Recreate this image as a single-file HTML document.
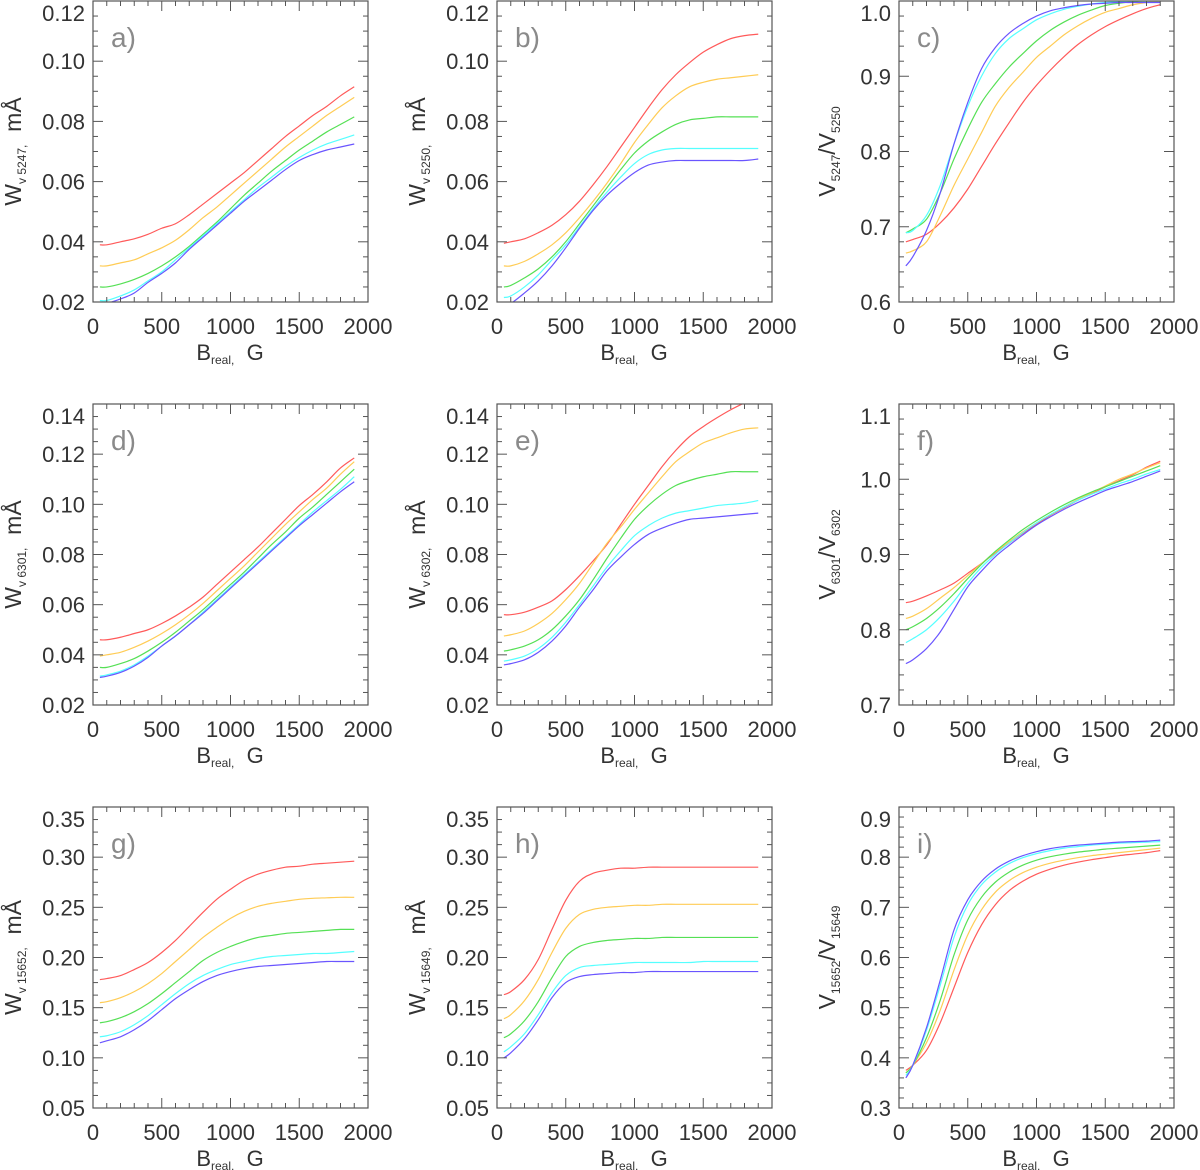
<!DOCTYPE html>
<html><head><meta charset="utf-8"><style>
html,body{margin:0;padding:0;background:#fff;}
svg{display:block;font-family:"Liberation Sans",sans-serif;}
</style></head><body>
<svg id="fig" width="1200" height="1170" viewBox="0 0 1200 1170" xmlns="http://www.w3.org/2000/svg"></svg>
<script>
const bField=[50,100,200,300,400,500,600,700,800,900,1000,1100,1200,1300,1400,1500,1600,1700,1800,1900];
const xTicks=[0,500,1000,1500,2000];
const seriesNames=["red","yellow","green","cyan","blue"];
// panel a
const aRed=[.039,.039,.040,.041,.0425,.0445,.046,.049,.0525,.056,.0595,.063,.067,.071,.075,.0785,.082,.085,.0885,.0915];
const aYellow=[.032,.032,.033,.034,.036,.038,.0405,.044,.048,.0515,.0555,.0595,.0635,.0675,.0715,.075,.0785,.082,.085,.088];
const aGreen=[.025,.025,.026,.0275,.0295,.032,.035,.0385,.0425,.0465,.051,.0555,.0595,.0635,.067,.0705,.0735,.0765,.079,.0815];
const aCyan=[.0205,.0205,.022,.024,.027,.030,.034,.038,.042,.046,.050,.054,.058,.0615,.065,.068,.0705,.0725,.074,.0755];
const aBlue=[.019,.0195,.021,.023,.0265,.0295,.033,.0375,.0415,.0455,.0495,.0535,.057,.0605,.064,.067,.069,.0705,.0715,.0725];
// panel b
const bRed=[.0395,.040,.041,.043,.0455,.049,.0535,.059,.065,.0715,.078,.0845,.0905,.0955,.0995,.103,.1055,.1075,.1085,.109];
const bYellow=[.032,.032,.0335,.036,.039,.043,.048,.0535,.0595,.066,.073,.079,.0845,.0885,.0915,.093,.094,.0945,.095,.0955];
const bGreen=[.025,.0255,.028,.031,.035,.040,.046,.052,.058,.064,.0695,.0735,.0765,.079,.0805,.081,.0815,.0815,.0815,.0815];
const bCyan=[.0215,.022,.025,.029,.034,.039,.045,.051,.0565,.0615,.066,.069,.0705,.071,.071,.071,.071,.071,.071,.071];
const bBlue=[.019,.0195,.023,.027,.032,.038,.0445,.0505,.0555,.0595,.063,.0655,.0665,.067,.067,.067,.067,.067,.067,.0675];
// panel c
const cRed=[.68,.683,.69,.705,.725,.75,.78,.81,.838,.865,.888,.908,.926,.942,.955,.966,.975,.983,.99,.995];
const cYellow=[.665,.668,.68,.715,.755,.79,.825,.86,.885,.905,.925,.94,.955,.967,.977,.985,.99,.995,.998,1.0];
const cGreen=[.692,.697,.71,.745,.79,.83,.865,.89,.912,.93,.947,.961,.972,.981,.988,.994,.997,.999,1.0,1.0];
const cCyan=[.692,.695,.715,.755,.81,.86,.9,.93,.95,.963,.975,.983,.989,.993,.996,.998,.999,1.0,1.0,1.0];
const cBlue=[.648,.66,.695,.745,.81,.865,.91,.938,.957,.97,.98,.987,.991,.994,.996,.997,.998,.998,.998,.998];
// panel d
const dRed=[.046,.046,.047,.0485,.050,.0525,.0555,.059,.063,.068,.073,.078,.083,.0885,.094,.0995,.104,.109,.1145,.1185];
const dYellow=[.0395,.040,.041,.043,.0455,.0485,.052,.056,.0605,.0655,.0705,.0755,.081,.0865,.092,.097,.102,.1065,.112,.117];
const dGreen=[.035,.035,.0365,.0385,.0415,.045,.049,.0535,.058,.063,.068,.073,.0785,.084,.089,.0945,.099,.104,.109,.114];
const dCyan=[.0315,.032,.0335,.036,.0395,.0435,.0475,.052,.057,.062,.067,.072,.077,.082,.087,.092,.097,.1015,.106,.111];
const dBlue=[.031,.0315,.033,.0355,.039,.0435,.0475,.052,.0565,.0615,.0665,.0715,.0765,.0815,.0865,.0915,.096,.1005,.105,.109];
// panel e
const eRed=[.056,.056,.057,.059,.0615,.066,.0715,.0775,.084,.092,.100,.1075,.115,.1215,.127,.131,.1345,.1377,.1405,.1435];
const eYellow=[.0475,.048,.0495,.0525,.0565,.062,.0685,.0765,.0845,.091,.098,.1045,.111,.117,.121,.1245,.1265,.1285,.13,.1305];
const eGreen=[.0415,.042,.0435,.046,.050,.0555,.062,.070,.0785,.0865,.094,.0995,.104,.1075,.1095,.111,.112,.113,.113,.113];
const eCyan=[.0375,.038,.0395,.0425,.047,.053,.060,.0675,.075,.0815,.0875,.0915,.0945,.0965,.0975,.0985,.0995,.1,.1005,.1015];
const eBlue=[.036,.0365,.038,.041,.0455,.0515,.059,.066,.0735,.079,.084,.088,.0905,.0925,.094,.0945,.095,.0955,.096,.0965];
// panel f
const fRed=[.836,.838,.845,.853,.862,.875,.888,.902,.915,.928,.94,.952,.962,.972,.981,.99,.998,1.006,1.016,1.024];
const fYellow=[.815,.818,.828,.842,.856,.872,.888,.903,.917,.93,.942,.953,.963,.973,.982,.991,1.0,1.007,1.015,1.022];
const fGreen=[.80,.804,.815,.83,.848,.868,.887,.904,.919,.933,.945,.956,.966,.975,.983,.99,.997,1.004,1.011,1.018];
const fCyan=[.783,.788,.80,.817,.838,.862,.883,.9,.915,.929,.942,.953,.963,.972,.98,.987,.994,1.0,1.007,1.013];
const fBlue=[.755,.76,.775,.797,.827,.857,.878,.897,.912,.926,.939,.95,.96,.969,.977,.985,.991,.997,1.004,1.011];
// panel g
const gRed=[.178,.179,.182,.188,.195,.205,.217,.231,.245,.258,.268,.277,.283,.287,.290,.291,.293,.294,.295,.296];
const gYellow=[.155,.156,.160,.166,.174,.184,.196,.208,.220,.230,.239,.246,.251,.254,.256,.258,.259,.2595,.26,.26];
const gGreen=[.135,.136,.140,.146,.154,.164,.175,.186,.197,.205,.211,.216,.220,.222,.224,.225,.226,.227,.228,.228];
const gCyan=[.121,.122,.126,.133,.142,.153,.164,.174,.182,.188,.193,.196,.199,.201,.202,.203,.204,.204,.205,.206];
const gBlue=[.115,.117,.121,.128,.137,.148,.159,.168,.176,.182,.186,.189,.191,.192,.193,.194,.195,.196,.196,.196];
// panel h
const hRed=[.163,.166,.178,.198,.228,.257,.276,.284,.287,.289,.289,.29,.29,.29,.29,.29,.29,.29,.29,.29];
const hYellow=[.139,.143,.157,.178,.205,.229,.243,.248,.250,.251,.252,.252,.253,.253,.253,.253,.253,.253,.253,.253];
const hGreen=[.120,.124,.137,.156,.180,.201,.211,.215,.217,.218,.219,.219,.22,.22,.22,.22,.22,.22,.22,.22];
const hCyan=[.106,.111,.124,.143,.165,.182,.190,.192,.193,.194,.195,.195,.195,.195,.195,.196,.196,.196,.196,.196];
const hBlue=[.100,.105,.119,.138,.160,.175,.181,.183,.184,.185,.185,.186,.186,.186,.186,.186,.186,.186,.186,.186];
// panel i
const iRed=[.375,.385,.415,.47,.54,.61,.665,.705,.733,.752,.766,.776,.784,.79,.795,.799,.803,.806,.809,.813];
const iYellow=[.37,.385,.43,.495,.575,.645,.695,.73,.753,.769,.78,.788,.794,.799,.803,.806,.809,.812,.815,.818];
const iGreen=[.37,.385,.44,.515,.605,.675,.72,.75,.77,.784,.794,.801,.806,.81,.813,.816,.818,.82,.822,.824];
const iCyan=[.365,.385,.455,.545,.64,.705,.745,.77,.787,.799,.807,.813,.818,.821,.824,.826,.828,.829,.83,.831];
const iBlue=[.36,.385,.46,.555,.655,.715,.752,.776,.792,.803,.811,.817,.821,.824,.826,.828,.83,.831,.832,.834];
// y tick labels
const yTicksA=["0.02","0.04","0.06","0.08","0.10","0.12"];
const yTicksC=["0.6","0.7","0.8","0.9","1.0"];
const yTicksD=["0.02","0.04","0.06","0.08","0.10","0.12","0.14"];
const yTicksF=["0.7","0.8","0.9","1.0","1.1"];
const yTicksG=["0.05","0.10","0.15","0.20","0.25","0.30","0.35"];
const yTicksI=["0.3","0.4","0.5","0.6","0.7","0.8","0.9"];

const COLORS=["#ff5a5a","#ffcc55","#55e055","#55ffff","#6a55ff"];
const NS="http://www.w3.org/2000/svg";
const svg=document.getElementById("fig");
function mk(tag,attrs,parent){const e=document.createElementNS(NS,tag);for(const k in attrs)e.setAttribute(k,attrs[k]);(parent||svg).appendChild(e);return e;}

const panels=[
 {id:"a",col:0,row:0,ymin:.02,ymax:.12,ticks:yTicksA,minor:.005,ylab:["W","v 5247,"," mÅ"],type:"w",series:[aRed,aYellow,aGreen,aCyan,aBlue]},
 {id:"b",col:1,row:0,ymin:.02,ymax:.12,ticks:yTicksA,minor:.005,ylab:["W","v 5250,"," mÅ"],type:"w",series:[bRed,bYellow,bGreen,bCyan,bBlue]},
 {id:"c",col:2,row:0,ymin:.6,ymax:1.0,ticks:yTicksC,minor:.02,ylab:["5247","5250"],type:"r",series:[cRed,cYellow,cGreen,cCyan,cBlue]},
 {id:"d",col:0,row:1,ymin:.02,ymax:.14,ticks:yTicksD,minor:.005,ylab:["W","v 6301,"," mÅ"],type:"w",series:[dRed,dYellow,dGreen,dCyan,dBlue]},
 {id:"e",col:1,row:1,ymin:.02,ymax:.14,ticks:yTicksD,minor:.005,ylab:["W","v 6302,"," mÅ"],type:"w",series:[eRed,eYellow,eGreen,eCyan,eBlue]},
 {id:"f",col:2,row:1,ymin:.7,ymax:1.1,ticks:yTicksF,minor:.02,ylab:["6301","6302"],type:"r",series:[fRed,fYellow,fGreen,fCyan,fBlue]},
 {id:"g",col:0,row:2,ymin:.05,ymax:.35,ticks:yTicksG,minor:.0125,ylab:["W","v 15652,"," mÅ"],type:"w",series:[gRed,gYellow,gGreen,gCyan,gBlue]},
 {id:"h",col:1,row:2,ymin:.05,ymax:.35,ticks:yTicksG,minor:.0125,ylab:["W","v 15649,"," mÅ"],type:"w",series:[hRed,hYellow,hGreen,hCyan,hBlue]},
 {id:"i",col:2,row:2,ymin:.3,ymax:.9,ticks:yTicksI,minor:.02,ylab:["15652","15649"],type:"r",series:[iRed,iYellow,iGreen,iCyan,iBlue]}
];
const COLX=[93,497,899], ROWY=[1,404,807], W=275, H=301;

function smoothPath(pts){
 let d="M"+pts[0][0].toFixed(2)+","+pts[0][1].toFixed(2);
 for(let i=0;i<pts.length-1;i++){
  const p0=pts[Math.max(0,i-1)],p1=pts[i],p2=pts[i+1],p3=pts[Math.min(pts.length-1,i+2)];
  const c1=[p1[0]+(p2[0]-p0[0])/6,p1[1]+(p2[1]-p0[1])/6];
  const c2=[p2[0]-(p3[0]-p1[0])/6,p2[1]-(p3[1]-p1[1])/6];
  d+=" C"+c1[0].toFixed(2)+","+c1[1].toFixed(2)+" "+c2[0].toFixed(2)+","+c2[1].toFixed(2)+" "+p2[0].toFixed(2)+","+p2[1].toFixed(2);
 }
 return d;
}

panels.forEach(p=>{
 const x0=COLX[p.col], y0=ROWY[p.row];
 const g=mk("g",{});
 
 
 const xs=v=>x0+v/2000*W;
 const ys=v=>y0+H-(v-p.ymin)/(p.ymax-p.ymin)*H;
 const cid="clip"+p.id;
 const cp=mk("clipPath",{id:cid},g); mk("rect",{x:x0,y:y0,width:W,height:H},cp);
 p.series.forEach((arr,si)=>{
  const pts=bField.map((b,k)=>[xs(b),ys(arr[k])]);
  const path=mk("path",{d:smoothPath(pts),fill:"none",stroke:COLORS[si],"stroke-width":1.2,"clip-path":"url(#"+cid+")"},g);
  
  
 });
 const box=mk("rect",{x:x0,y:y0,width:W,height:H,fill:"none",stroke:"#555","stroke-width":1.2},g);
 
 
 for(let v=0;v<=2000;v+=100){
  const major=v%500===0, L=major?10:5, X=xs(v);
  mk("line",{x1:X,y1:y0+H,x2:X,y2:y0+H-L,stroke:"#555","stroke-width":1},g);
  mk("line",{x1:X,y1:y0,x2:X,y2:y0+L,stroke:"#555","stroke-width":1},g);
 }
 xTicks.forEach(v=>{
  const t=mk("text",{x:xs(v),y:y0+H+32,"text-anchor":"middle","font-size":22,fill:"#333"},g);
  t.textContent=String(v);
  
  
 });
 const nMin=Math.round((p.ymax-p.ymin)/p.minor);
 const majStep=parseFloat(p.ticks[1])-parseFloat(p.ticks[0]);
 for(let k=0;k<=nMin;k++){
  const v=p.ymin+k*p.minor;
  const rel=(v-p.ymin)/majStep, major=Math.abs(rel-Math.round(rel))<1e-6, L=major?10:5, Y=ys(v);
  mk("line",{x1:x0,y1:Y,x2:x0+L,y2:Y,stroke:"#555","stroke-width":1},g);
  mk("line",{x1:x0+W,y1:Y,x2:x0+W-L,y2:Y,stroke:"#555","stroke-width":1},g);
 }
 p.ticks.forEach(s=>{
  const base=Math.max(ys(parseFloat(s))+8,y0+20);
  const t=mk("text",{x:x0-8,y:base,"text-anchor":"end","font-size":22,fill:"#333"},g);
  t.textContent=s;
  
  
 });
 const xt=mk("text",{x:x0+137,y:y0+H+58,"text-anchor":"middle","font-size":22,fill:"#333"},g);
 xt.innerHTML='B<tspan font-size="12" dy="4">real,</tspan><tspan dy="-4">\u00a0\u00a0G</tspan>';
 
 
 const cx=p.type==="w"?x0-72:x0-64, cy=y0+H/2;
 const yt=mk("text",{x:cx,y:cy,"text-anchor":"middle","font-size":23,fill:"#333",transform:"rotate(-90 "+cx+" "+cy+")"},g);
 if(p.type==="w") yt.innerHTML='W<tspan font-size="12" dy="5">'+p.ylab[1]+'</tspan><tspan dy="-5">\u00a0\u00a0mÅ</tspan>';
 else yt.innerHTML='V<tspan font-size="12" dy="5">'+p.ylab[0]+'</tspan><tspan dy="-5">/V</tspan><tspan font-size="12" dy="5">'+p.ylab[1]+'</tspan>';
 
 
 const pl=mk("text",{x:x0+18,y:y0+46,"font-size":28,fill:"#8a8a8a"},g);
 pl.textContent=p.id+")";
 
 
});
</script>
</body></html>
